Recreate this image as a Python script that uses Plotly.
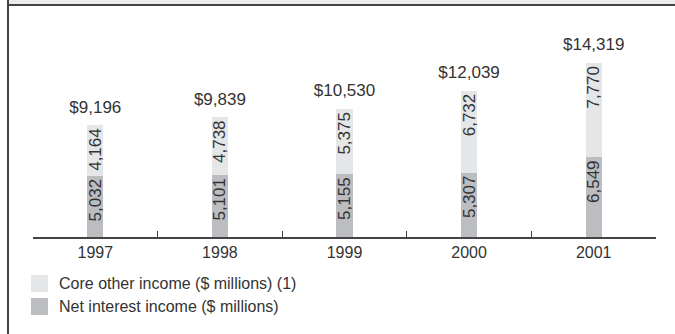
import plotly.graph_objects as go

# Annual income components, $ millions
years = ["1997", "1998", "1999", "2000", "2001"]
net_interest = [5032, 5101, 5155, 5307, 6549]
core_other = [4164, 4738, 5375, 6732, 7770]
series_names = ["Net interest income ($ millions)", "Core other income ($ millions) (1)"]

totals = [a + b for a, b in zip(net_interest, core_other)]

DARK = "#bcbdc0"
LIGHT = "#e5e6e8"
TEXT = "#333333"
FONT = "Liberation Sans, Arial, sans-serif"

W, H = 675, 334
ML, MR, MT, MB = 33, 19, 20, 97
PW, PH = W - ML - MR, H - MT - MB


def px_x(px):
    return (px - ML) / PW


def px_y(py):
    return (H - MB - py) / PH


fig = go.Figure()
for vals, color, name in [(net_interest, DARK, series_names[0]),
                          (core_other, LIGHT, series_names[1])]:
    fig.add_trace(go.Bar(
        x=years, y=vals, name=name, marker=dict(color=color, line=dict(width=0)),
        width=0.13,
        text=[f"{v:,}" for v in vals], texttemplate="%{text}",
        textposition="inside", insidetextanchor="end", textangle=-90,
        insidetextfont=dict(family=FONT, size=17, color=TEXT),
        showlegend=False, hoverinfo="skip",
    ))

# Totals above each stacked bar (invisible marker sets the gap)
fig.add_trace(go.Scatter(
    x=years, y=totals, mode="markers+text",
    marker=dict(size=12, opacity=0),
    text=["$" + f"{t:,}" for t in totals], textposition="top center",
    textfont=dict(family=FONT, size=17, color=TEXT),
    showlegend=False, hoverinfo="skip", cliponaxis=False,
))

shapes = [
    # top band and rule
    dict(type="rect", xref="paper", yref="paper", x0=px_x(8), x1=px_x(W + 5),
         y0=px_y(4), y1=px_y(-5), fillcolor="#ececec", line=dict(width=0), layer="below"),
    dict(type="line", xref="paper", yref="paper", x0=px_x(8), x1=px_x(W + 5),
         y0=px_y(5), y1=px_y(5), line=dict(color="#444444", width=2)),
    # left rule
    dict(type="line", xref="paper", yref="paper", x0=px_x(8), x1=px_x(8),
         y0=px_y(-5), y1=px_y(H + 5), line=dict(color="#444444", width=2)),
]

# Legend swatches and labels
legend_rows = [(series_names[1], LIGHT, 275, 292), (series_names[0], DARK, 298, 315)]
for name, color, top, bot in legend_rows:
    shapes.append(dict(type="rect", xref="paper", yref="paper",
                       x0=px_x(31), x1=px_x(48), y0=px_y(bot), y1=px_y(top),
                       fillcolor=color, line=dict(width=0)))
    fig.add_annotation(xref="paper", yref="paper", x=px_x(57), y=px_y((top + bot) / 2),
                       text=name, showarrow=False, xanchor="left", yanchor="middle",
                       font=dict(family=FONT, size=16, color=TEXT))

fig.update_layout(
    width=W, height=H, barmode="stack",
    margin=dict(l=ML, r=MR, t=MT, b=MB, autoexpand=False),
    paper_bgcolor="white", plot_bgcolor="white",
    shapes=shapes,
    uniformtext=dict(minsize=17, mode="show"),
    xaxis=dict(type="category", range=[-0.5, 4.5], showline=True, linecolor="#444444",
               linewidth=1.5, ticks="inside", tickson="boundaries", ticklen=6,
               tickcolor="#444444", tickwidth=1, showgrid=False,
               tickfont=dict(family=FONT, size=16, color=TEXT), fixedrange=True),
    yaxis=dict(range=[0, 17860], visible=False, showgrid=False, zeroline=False),
)

fig.write_html("out.html")
